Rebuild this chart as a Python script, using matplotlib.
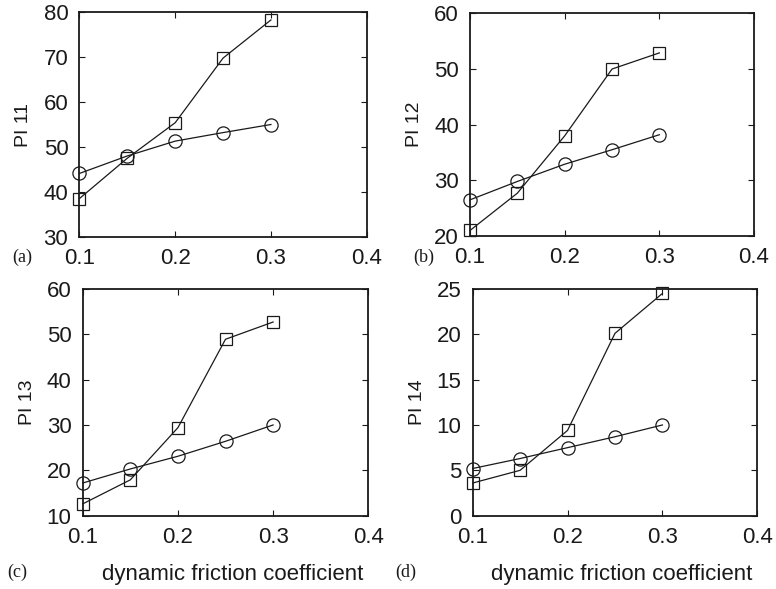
import matplotlib
matplotlib.use('Agg')
import matplotlib.pyplot as plt

plt.rcParams['font.family'] = ['Liberation Sans', 'DejaVu Sans']

mu = [0.1, 0.15, 0.2, 0.25, 0.3]

# squares / circles for each performance index
pi11_sq = [38.5, 47.5, 55.4, 69.8, 78.3]
pi11_ci = [44.1, 48.0, 51.3, 53.2, 55.0]
pi12_sq = [21.0, 27.7, 38.0, 50.0, 52.9]
pi12_ci = [26.5, 29.8, 32.9, 35.5, 38.2]
pi13_sq = [12.6, 17.9, 29.4, 48.9, 52.7]
pi13_ci = [17.2, 20.3, 23.1, 26.4, 30.0]
pi14_sq = [3.6, 5.0, 9.4, 20.1, 24.5]
pi14_ci = [5.2, 6.3, 7.5, 8.7, 10.0]

panels = [
    ('(a)', 'PI 11', pi11_sq, pi11_ci, (30, 80), [30, 40, 50, 60, 70, 80]),
    ('(b)', 'PI 12', pi12_sq, pi12_ci, (20, 60), [20, 30, 40, 50, 60]),
    ('(c)', 'PI 13', pi13_sq, pi13_ci, (10, 60), [10, 20, 30, 40, 50, 60]),
    ('(d)', 'PI 14', pi14_sq, pi14_ci, (0, 25), [0, 5, 10, 15, 20, 25]),
]

# axes rectangles in figure fraction
rects = [
    [0.1024, 0.5981, 0.3701, 0.381],
    [0.6057, 0.5993, 0.3660, 0.378],
    [0.1066, 0.1245, 0.3680, 0.385],
    [0.6091, 0.1245, 0.3668, 0.385],
]
# panel tag positions (figure fraction)
tag_pos = [(0.0155, 0.563), (0.532, 0.563), (0.009, 0.029), (0.509, 0.029)]

fig = plt.figure(figsize=(7.76, 5.89), dpi=100)
col = '#1a1a1a'

for i, (tag, ylab, sq, ci, ylim, yt) in enumerate(panels):
    ax = fig.add_axes(rects[i])
    ax.plot(mu, sq, '-', color=col, lw=0.9, marker='s', ms=8.5,
            mfc='none', mec=col, mew=0.9, clip_on=False, zorder=3)
    ax.plot(mu, ci, '-', color=col, lw=0.9, marker='o', ms=9.5,
            mfc='none', mec=col, mew=0.9, clip_on=False, zorder=3)
    ax.set_xlim(0.1, 0.4)
    ax.set_ylim(*ylim)
    ax.set_xticks([0.1, 0.2, 0.3, 0.4])
    ax.set_xticklabels(['0.1', '0.2', '0.3', '0.4'])
    ax.set_yticks(yt)
    ax.tick_params(direction='in', top=True, right=True, length=4,
                   width=0.8, labelsize=16, pad=8, colors=col)
    for s in ax.spines.values():
        s.set_linewidth(1.3)
        s.set_color(col)
    ax.set_ylabel(ylab, fontsize=14, color=col, labelpad=8)

    fig.text(tag_pos[i][0], tag_pos[i][1], tag, family='Liberation Serif',
             fontsize=13, va='center', ha='left', color=col)
    if i >= 2:
        fig.text(rects[i][0] + rects[i][2] / 2 + 0.009, 0.024,
                 'dynamic friction coefficient', fontsize=16,
                 ha='center', va='center', color=col)

fig.savefig('out.png', dpi=100)
